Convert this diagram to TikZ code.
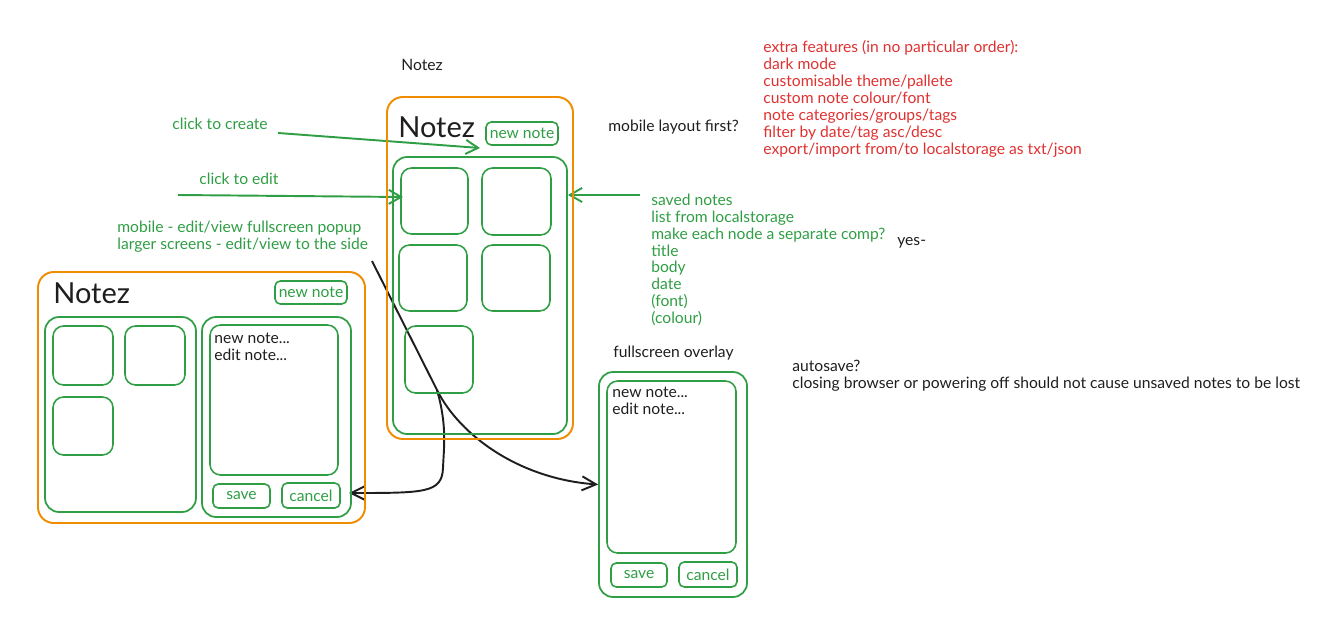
\documentclass[tikz,border=0pt]{standalone}
\usepackage{fontspec}
\setmainfont{Lato}
\usetikzlibrary{arrows.meta,fit}
\pgfdeclarelayer{bg}
\pgfsetlayers{bg,main}
\definecolor{exgreen}{HTML}{2F9E44}
\definecolor{exorange}{HTML}{F08C00}
\definecolor{exred}{HTML}{E03131}
\definecolor{exink}{HTML}{1E1E1E}
\newcommand{\hand}{\fontsize{8.9}{9.64}\selectfont}
\newcommand{\bigtitle}{\fontsize{16.5}{17}\selectfont}
\tikzset{
    phone/.style={draw=exorange, line width=1.1pt, rounded corners=9pt, inner sep=0pt},
    pane/.style={draw=exgreen, line width=1pt, rounded corners=8pt, inner sep=0pt},
    card/.style={draw=exgreen, line width=.9pt, rounded corners=6pt, inner sep=0pt},
    btn/.style={draw=exgreen, line width=.9pt, rounded corners=3pt, inner sep=0pt,
        label={[text=exgreen, font=\hand, inner sep=0pt]center:#1}},
    note/.style={inner sep=0pt, anchor=base west, font=\hand, text=exink},
    block/.style={inner sep=0pt, anchor=north west, align=left, font=\hand, text=exink},
    hint/.style={-{Straight Barb[length=7pt,width=8pt]}, draw=exgreen, line width=1.1pt},
    flow/.style={-{Straight Barb[length=8pt,width=8pt]}, draw=exink, line width=1.1pt}
}

\begin{document}
\begin{tikzpicture}[x=0.02cm, y=-0.02cm]
  \useasboundingbox (0,0) rectangle (1331,635);

  \node[note] (sketch) at (401,71) {Notez};

  \node[phone, fit={(387,97) (573,439)}] (mobile) {};
  \node[note, font=\bigtitle] (mtitle) at (398,137) {Notez};
  \node[btn=new note, fit={(486,122) (558,145)}] (mnew) {};
  \node[pane, fit={(393,157) (567,434)}] (mlist) {};
  \node[card, fit={(401,168) (468,234)}] (m1) {};
  \node[card, fit={(482,168) (551,235)}] (m2) {};
  \node[card, fit={(399,245) (467,311)}] (m3) {};
  \node[card, fit={(482,245) (550,311)}] (m4) {};
  \node[card, fit={(405,326) (473,393)}] (m5) {};

  \node[phone, fit={(38,272) (365,523)}] (desktop) {};
  \node[note, font=\bigtitle] (dtitle) at (53,303) {Notez};
  \node[btn=new note, fit={(275,281) (347,304)}] (dnew) {};
  \node[pane, fit={(45,317) (196,512)}] (dlist) {};
  \node[card, fit={(53,326) (113,385)}] (d1) {};
  \node[card, fit={(125,326) (185,385)}] (d2) {};
  \node[card, fit={(53,397) (113,455)}] (d3) {};
  \node[pane, fit={(202,317) (351,517)}] (dside) {};
  \node[card, fit={(210,325) (338,475)}] (dedit) {};
  \node[block] (dtext) at (214,331) {\strut new note...\\edit note...};
  \node[btn=save, fit={(213,484) (270,508)}] (dsave) {};
  \node[btn=cancel, fit={(282,483) (340,508)}] (dcancel) {};

  \node[note] (olabel) at (613,357) {fullscreen overlay};
  \node[pane, fit={(599,372) (747,597)}] (overlay) {};
  \node[card, fit={(607,381) (736,553)}] (oedit) {};
  \node[block] (otext) at (612,385) {\strut new note...\\edit note...};
  \node[btn=save, fit={(611,563) (667,587)}] (osave) {};
  \node[btn=cancel, fit={(679,562) (737,587)}] (ocancel) {};

  \node[note, text=exgreen] (create) at (172,130) {click to create};
  \node[note, text=exgreen] (edit) at (199,184) {click to edit};
  \node[block, text=exgreen] (modes) at (117,220)
    {\strut mobile - edit/view fullscreen popup\\larger screens - edit/view to the side};
  \node[note] (first) at (608,132) {mobile layout first?};
  \node[block, text=exred] (extras) at (763,40)
    {\strut extra features (in no particular order):\\dark mode\\customisable theme/pallete\\
     custom note colour/font\\note categories/groups/tags\\filter by date/tag asc/desc\\
     export/import from/to localstorage as txt/json};
  \node[block, text=exgreen] (saved) at (651,193)
    {\strut saved notes\\list from localstorage\\make each node a separate comp?\\title\\
     body\\date\\(font)\\(colour)};
  \node[note] (yes) at (897,245) {yes-};
  \node[block] (autosave) at (792,359)
    {\strut autosave?\\closing browser or powering off should not cause unsaved notes to be lost};

  \coordinate (createtail) at (278,133);
  \coordinate (createtip) at (480,148);
  \coordinate (edittail) at (178,195);
  \coordinate (edittip) at (403,197);
  \coordinate (savedtail) at (640,195);
  \coordinate (popup) at (372,261);
  \coordinate (split) at (437,390);
  \coordinate (back) at (349,493);

  \begin{pgfonlayer}{bg}
    \draw[hint] (createtail) -- (createtip);
    \draw[hint] (edittail) -- (edittip);
    \draw[hint] (savedtail) -- (savedtail -| mlist.east);
    \draw[flow] (popup) -- (split) .. controls (460,436) and (520,479) .. (overlay.west);
    \draw[flow] (split) .. controls (447,425) and (444,445) .. (443,468)
      .. controls (442,493) and (425,493) .. (back);
  \end{pgfonlayer}
\end{tikzpicture}
\end{document}
